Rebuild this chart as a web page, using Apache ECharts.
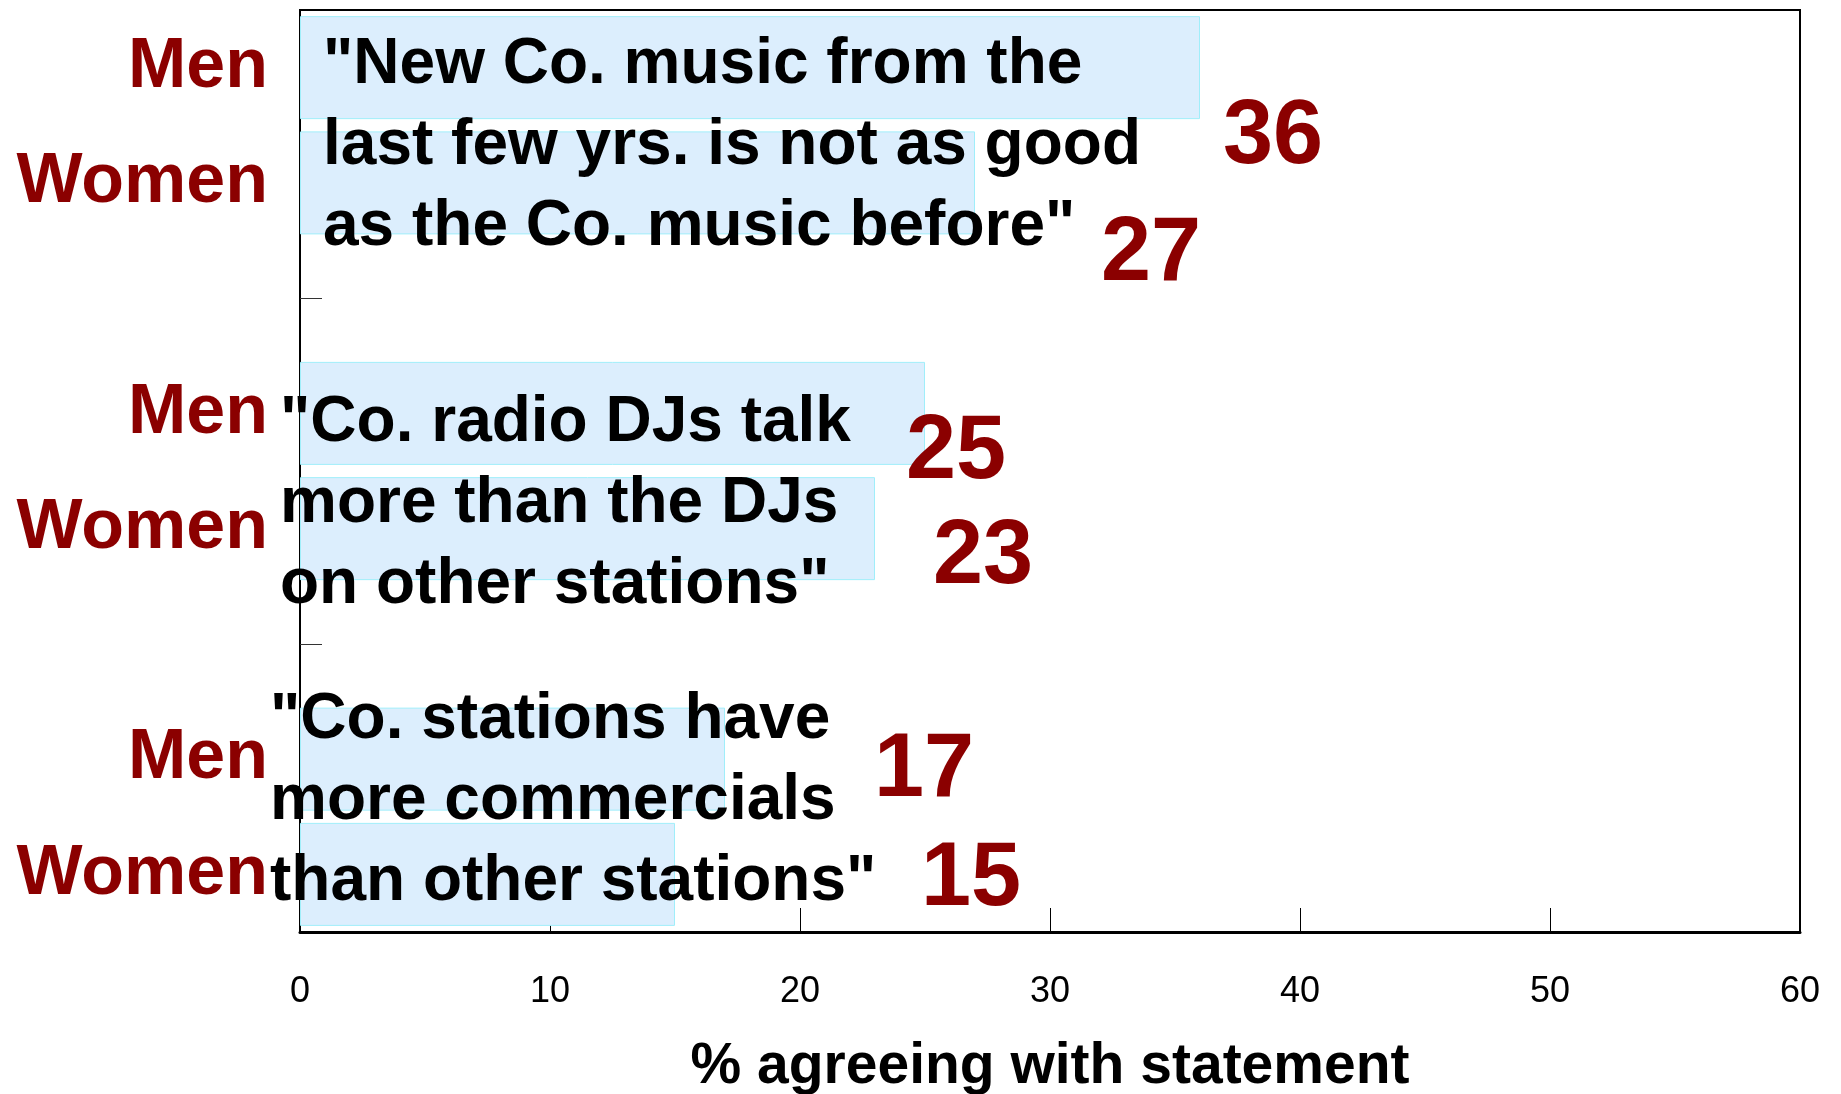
<!DOCTYPE html>
<html>
<head>
<meta charset="utf-8">
<script src="https://cdn.jsdelivr.net/npm/echarts@6/dist/echarts.min.js"></script>
<style>
html,body{margin:0;padding:0;background:#fff;}
#chart{width:1841px;height:1094px;}
</style>
</head>
<body>
<div id="chart"></div>
<script>
// ---- data ----
const categories = ['Men', 'Women', '', 'Men', 'Women', '', 'Men', 'Women'];
const values = [36, 27, null, 25, 23, null, 17, 15];
const xTicks = [0, 10, 20, 30, 40, 50, 60];
const xAxisTitle = '% agreeing with statement';
const statement1 = ['"New Co. music from the', 'last few yrs. is not as good', 'as the Co. music before"'];
const statement2 = ['"Co. radio DJs talk', 'more than the DJs', 'on other stations"'];
const statement3 = ['"Co. stations have', 'more commercials', 'than other stations"'];

// ---- styling (label placement offsets, px) ----
const labelOffsets = [[23, 71], [126, 72], [0, 0], [-19, 40], [58, 30], [0, 0], [149, 12], [246, 6]];
const FONT = '"Liberation Sans", Arial, Helvetica, sans-serif';
const DARKRED = '#8B0000';

const chart = echarts.init(document.getElementById('chart'));

const seriesData = values.map((v, i) => ({
  value: v,
  label: { offset: labelOffsets[i] }
}));

function stmt(lines, x, y) {
  return {
    type: 'text',
    left: x,
    top: y,
    z: 100,
    style: {
      text: lines.join('\n'),
      font: 'bold 64px ' + FONT,
      fill: '#000',
      lineHeight: 81
    }
  };
}

chart.setOption({
  animation: false,
  backgroundColor: '#fff',
  grid: {
    left: 300, right: 41, top: 10, bottom: 162,
    outerBoundsMode: 'none',
    containLabel: false,
    show: true, borderColor: '#000', borderWidth: 2,
    backgroundColor: 'transparent'
  },
  xAxis: {
    type: 'value',
    min: xTicks[0], max: xTicks[xTicks.length - 1], interval: 10,
    splitLine: { show: false },
    axisLine: { show: true, lineStyle: { color: '#000', width: 3 } },
    axisTick: { show: true, inside: true, length: 24, lineStyle: { color: '#000', width: 1 } },
    axisLabel: { fontSize: 36, color: '#000', fontFamily: FONT, margin: 42 },
    name: xAxisTitle,
    nameLocation: 'middle',
    nameGap: 107,
    nameTextStyle: { fontSize: 57, fontWeight: 'bold', color: '#000', fontFamily: FONT }
  },
  yAxis: {
    type: 'category',
    inverse: true,
    data: categories,
    axisLine: { show: true, lineStyle: { color: '#000', width: 2 } },
    axisTick: { show: true, inside: true, alignWithLabel: true, length: 22, lineStyle: { color: '#333', width: 1 } },
    axisLabel: { interval: 0, fontSize: 70, fontWeight: 'bold', color: DARKRED, fontFamily: FONT, margin: 32, padding: [8, 0, 0, 0] },
    splitLine: { show: false }
  },
  series: [{
    type: 'bar',
    data: seriesData,
    barWidth: 103,
    itemStyle: { color: 'rgb(220,238,253)', borderColor: 'rgb(160,238,250)', borderWidth: 1 },
    label: {
      show: true,
      position: 'right',
      distance: 0,
      fontSize: 90,
      fontWeight: 'bold',
      color: DARKRED,
      fontFamily: FONT
    },
    z: 2
  }],
  graphic: [
    stmt(statement1, 323, 25),
    stmt(statement2, 280, 383),
    stmt(statement3, 270, 680)
  ]
});
</script>
</body>
</html>
